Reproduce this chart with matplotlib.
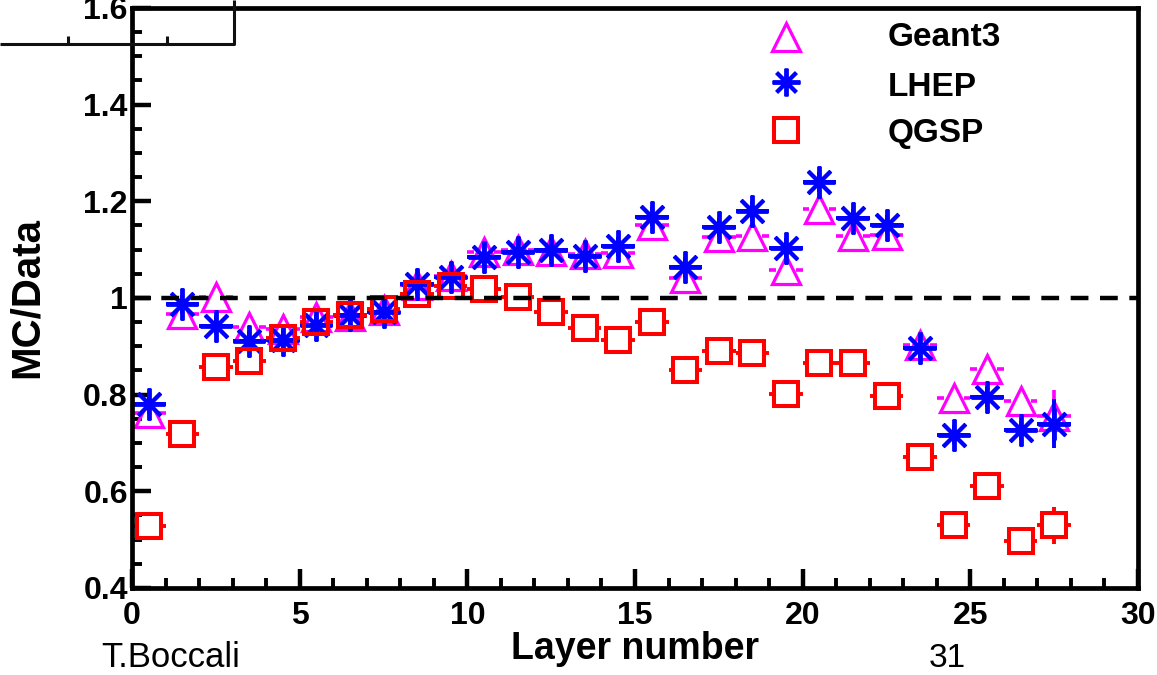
import numpy as np
import matplotlib
matplotlib.use("Agg")
import matplotlib.pyplot as plt
from matplotlib.lines import Line2D
from matplotlib.ticker import MultipleLocator, FuncFormatter

# ---------------- data ----------------
layers = [0.5, 1.5, 2.5, 3.5, 4.5, 5.5, 6.5, 7.5, 8.5, 9.5,
          10.5, 11.5, 12.5, 13.5, 14.5, 15.5, 16.5, 17.5, 18.5, 19.5,
          20.5, 21.5, 22.5, 23.5, 24.5, 25.5, 26.5, 27.5]

geant3 = [0.763, 0.966, 1.002, 0.939, 0.935, 0.960, 0.962, 0.975, 1.026, 1.046,
          1.095, 1.099, 1.097, 1.090, 1.094, 1.152, 1.042, 1.126, 1.128, 1.057,
          1.184, 1.129, 1.130, 0.903, 0.794, 0.854, 0.786, 0.755]
lhep = [0.780, 0.987, 0.943, 0.912, 0.914, 0.945, 0.964, 0.972, 1.028, 1.044,
        1.085, 1.096, 1.100, 1.086, 1.107, 1.168, 1.064, 1.146, 1.180, 1.104,
        1.240, 1.165, 1.152, 0.896, 0.717, 0.795, 0.726, 0.740]
qgsp = [0.529, 0.718, 0.857, 0.869, 0.917, 0.950, 0.964, 0.977, 1.009, 1.024,
        1.019, 1.002, 0.972, 0.938, 0.913, 0.950, 0.851, 0.890, 0.886, 0.802,
        0.865, 0.865, 0.798, 0.670, 0.530, 0.610, 0.498, 0.530]

geant3_err = [0.01] * 27 + [0.055]
lhep_err = [0.02] * 27 + [0.050]
qgsp_err = [0.01] * 27 + [0.038]
x_halfwidth = 0.5

series_names = ["Geant3", "LHEP", "QGSP"]
x_ticks = [0, 5, 10, 15, 20, 25, 30]
y_ticks = [0.4, 0.6, 0.8, 1.0, 1.2, 1.4, 1.6]

# ---------------- style ----------------
plt.rcParams["font.family"] = ["Liberation Sans", "DejaVu Sans"]
plt.rcParams["font.weight"] = "bold"

W, H = 1157, 675
fig = plt.figure(figsize=(W / 100, H / 100), dpi=100)
ax = fig.add_axes([132 / W, 1 - 588 / H, (1138 - 132) / W, (588 - 8) / H])
ax.set_xlim(0, 30)
ax.set_ylim(0.4, 1.6)

for s in ax.spines.values():
    s.set_linewidth(3.4)
    s.set_zorder(10)

MAG, BLUE, RED = "#ff00ff", "#0000ff", "#ff0000"


def draw_errors(x, y, yerr, color, gx, gy, lw, z):
    x = np.asarray(x, float)
    y = np.asarray(y, float)
    yerr = np.asarray(yerr, float)
    ax.hlines(y, x - x_halfwidth, x - gx, colors=color, lw=lw, zorder=z, capstyle="butt")
    ax.hlines(y, x + gx, x + x_halfwidth, colors=color, lw=lw, zorder=z, capstyle="butt")
    m = yerr > gy
    if m.any():
        ax.vlines(x[m], y[m] + gy, y[m] + yerr[m], colors=color, lw=lw, zorder=z, capstyle="butt")
        ax.vlines(x[m], y[m] - yerr[m], y[m] - gy, colors=color, lw=lw, zorder=z, capstyle="butt")


px_x = 30 / 1006.0   # data units per pixel (x)
px_y = 1.2 / 580.0   # data units per pixel (y)

# Geant3 triangles
draw_errors(layers, geant3, geant3_err, MAG, 10 * px_x, 14 * px_y, 2.6, 2)
ax.plot(layers, geant3, ls="none", marker="^", ms=19.5, mfc="none", mec=MAG, mew=2.3, zorder=3)

# LHEP asterisks
draw_errors(layers, lhep, lhep_err, BLUE, 0, 0, 2.8, 4)
ax.plot(layers, lhep, ls="none", marker=(8, 2, 0), ms=23, mec=BLUE, mew=2.8, zorder=5)

# QGSP squares
draw_errors(layers, qgsp, qgsp_err, RED, 13.5 * px_x, 14 * px_y, 2.8, 6)
ax.plot(layers, qgsp, ls="none", marker="s", ms=17.5, mfc="none", mec=RED, mew=2.9, zorder=7)

# reference line
ax.axhline(1.0, color="black", lw=3.2, linestyle=(0, (4.0, 2.6)), zorder=8)

# ticks
ax.xaxis.set_major_locator(MultipleLocator(5))
ax.xaxis.set_minor_locator(MultipleLocator(1))
ax.yaxis.set_major_locator(MultipleLocator(0.2))
ax.yaxis.set_minor_locator(MultipleLocator(0.05))
ax.set_xticks(x_ticks)
ax.set_yticks(y_ticks)
ax.xaxis.set_major_formatter(FuncFormatter(lambda v, p: f"{v:g}"))
ax.yaxis.set_major_formatter(FuncFormatter(lambda v, p: f"{v:g}"))
ax.tick_params(which="major", direction="in", length=13.5, width=3.2,
               top=False, right=False, labelsize=23)
ax.tick_params(which="minor", direction="in", length=7, width=2.8,
               top=False, right=False)
ax.tick_params(axis="x", pad=9)
ax.tick_params(axis="y", pad=3)

# legend (drawn inside the frame, no box)
leg_styles = [
    dict(marker="^", ms=19.5, mfc="none", mec=MAG, mew=2.3),
    dict(marker=(8, 2, 0), ms=20, mec=BLUE, mew=2.8),
    dict(marker="s", ms=17.5, mfc="none", mec=RED, mew=2.9),
]
leg_marker_y = [37, 82, 130]
leg_text_y = [46, 96.5, 142]
for name, st, my, ty in zip(series_names, leg_styles, leg_marker_y, leg_text_y):
    ax.plot([(786 - 132) / 1006], [(588 - my) / 580], ls="none",
            transform=ax.transAxes, clip_on=False, zorder=9, **st)
    ax.text((888 - 132) / 1006, (588 - ty) / 580, name, transform=ax.transAxes,
            ha="left", va="baseline", fontsize=24, fontweight="bold")

# axis titles and footer
fig.text(27 / W, 1 - 298 / H, "MC/Data", rotation=90, ha="center", va="center",
         fontsize=29, fontweight="bold")
fig.text(635.5 / W, 1 - 659 / H, "Layer number", ha="center", va="baseline",
         fontsize=27, fontweight="bold")
fig.text(101.7 / W, 1 - 667.3 / H, "T.Boccali", ha="left", va="baseline",
         fontsize=25, fontweight="normal")
fig.text(947.5 / W, 1 - 667 / H, "31", ha="center", va="baseline",
         fontsize=24, fontweight="normal")

# stray frame fragment at the top-left corner
def fig_line(xs, ys):
    fig.add_artist(Line2D([x / W for x in xs], [1 - y / H for y in ys],
                          transform=fig.transFigure, color="#111111", lw=2.2,
                          solid_capstyle="butt", zorder=20))

fig_line([0, 234, 234], [43.5, 43.5, 0])
fig_line([68, 68], [43.5, 36])
fig_line([167, 167], [43.5, 36])

fig.savefig("out.png", dpi=100)
